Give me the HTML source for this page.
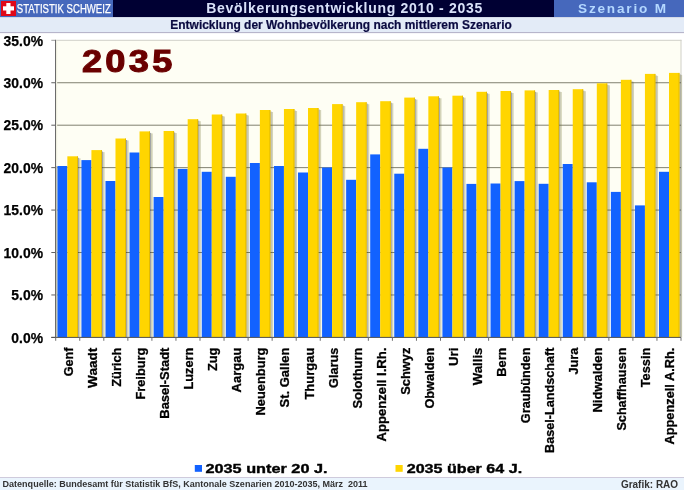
<!DOCTYPE html>
<html><head><meta charset="utf-8"><title>Bevölkerungsentwicklung 2010 - 2035</title>
<style>
html,body{margin:0;padding:0;background:#fff;width:684px;height:490px;overflow:hidden;}
svg{display:block;will-change:transform;}
text{white-space:pre;}
</style></head><body>
<svg width="684" height="490" viewBox="0 0 684 490">
<rect x="0" y="0" width="684" height="17.1" fill="#000033"/>
<rect x="0" y="0" width="113" height="17.1" fill="#4668bc"/>
<rect x="554" y="0" width="130" height="17.1" fill="#4668bc"/>
<rect x="1" y="1" width="15" height="15" fill="#e00818"/>
<rect x="3" y="6.3" width="11" height="4.2" fill="#fff"/>
<rect x="6.3" y="3" width="4.2" height="11" fill="#fff"/>
<text x="16.8" y="12.9" font-family='"Liberation Sans", sans-serif' font-size="12.7" stroke="#fff" stroke-width="0.25" fill="#ffffff" textLength="94" lengthAdjust="spacingAndGlyphs">STATISTIK SCHWEIZ</text>
<text x="206.3" y="13.4" font-family='"Liberation Sans", sans-serif' font-weight="bold" font-size="14" fill="#d8e0f8" textLength="276" lengthAdjust="spacing">Bevölkerungsentwicklung 2010 - 2035</text>
<text x="578" y="13.2" font-family='"Liberation Sans", sans-serif' font-weight="bold" font-size="13.6" fill="#b4d8ff" textLength="88" lengthAdjust="spacing">Szenario M</text>
<rect x="0" y="17.1" width="684" height="15.4" fill="#e3ebf7"/>
<rect x="0" y="17.1" width="684" height="0.7" fill="#cdd3e2"/>
<rect x="0" y="32.2" width="684" height="0.9" fill="#aaa6c0"/>
<text x="170.3" y="28.6" font-family='"Liberation Sans", sans-serif' font-weight="bold" font-size="12" fill="#0a0a40" stroke="#0a0a40" stroke-width="0.2" textLength="341.5" lengthAdjust="spacingAndGlyphs">Entwicklung der Wohnbevölkerung nach mittlerem Szenario</text>
<rect x="55.7" y="40.3" width="625.3" height="297.09999999999997" fill="#fefef4"/>
<rect x="55.7" y="39.8" width="625.8" height="1" fill="#d0d0c8"/>
<rect x="680.5" y="39.8" width="1" height="297.09999999999997" fill="#d0d0c8"/>
<rect x="55.7" y="82.24" width="625.3" height="1" fill="#808070"/>
<rect x="55.7" y="124.69" width="625.3" height="1" fill="#808070"/>
<rect x="55.7" y="167.13" width="625.3" height="1" fill="#808070"/>
<rect x="55.7" y="209.57" width="625.3" height="1" fill="#808070"/>
<rect x="55.7" y="252.01" width="625.3" height="1" fill="#808070"/>
<rect x="55.7" y="294.46" width="625.3" height="1" fill="#808070"/>
<rect x="51.3" y="39.80" width="4.4" height="1" fill="#a0a0a0"/>
<text x="43" y="45.60" text-anchor="end" font-family='"Liberation Sans", sans-serif' font-weight="bold" font-size="13.9" fill="#000" stroke="#000" stroke-width="0.25">35.0%</text>
<rect x="51.3" y="82.24" width="4.4" height="1" fill="#606060"/>
<text x="43" y="88.04" text-anchor="end" font-family='"Liberation Sans", sans-serif' font-weight="bold" font-size="13.9" fill="#000" stroke="#000" stroke-width="0.25">30.0%</text>
<rect x="51.3" y="124.69" width="4.4" height="1" fill="#606060"/>
<text x="43" y="130.49" text-anchor="end" font-family='"Liberation Sans", sans-serif' font-weight="bold" font-size="13.9" fill="#000" stroke="#000" stroke-width="0.25">25.0%</text>
<rect x="51.3" y="167.13" width="4.4" height="1" fill="#606060"/>
<text x="43" y="172.93" text-anchor="end" font-family='"Liberation Sans", sans-serif' font-weight="bold" font-size="13.9" fill="#000" stroke="#000" stroke-width="0.25">20.0%</text>
<rect x="51.3" y="209.57" width="4.4" height="1" fill="#606060"/>
<text x="43" y="215.37" text-anchor="end" font-family='"Liberation Sans", sans-serif' font-weight="bold" font-size="13.9" fill="#000" stroke="#000" stroke-width="0.25">15.0%</text>
<rect x="51.3" y="252.01" width="4.4" height="1" fill="#606060"/>
<text x="43" y="257.81" text-anchor="end" font-family='"Liberation Sans", sans-serif' font-weight="bold" font-size="13.9" fill="#000" stroke="#000" stroke-width="0.25">10.0%</text>
<rect x="51.3" y="294.46" width="4.4" height="1" fill="#606060"/>
<text x="43" y="300.26" text-anchor="end" font-family='"Liberation Sans", sans-serif' font-weight="bold" font-size="13.9" fill="#000" stroke="#000" stroke-width="0.25">5.0%</text>
<rect x="51.3" y="336.90" width="4.4" height="1" fill="#606060"/>
<text x="43" y="342.70" text-anchor="end" font-family='"Liberation Sans", sans-serif' font-weight="bold" font-size="13.9" fill="#000" stroke="#000" stroke-width="0.25">0.0%</text>
<text transform="translate(81.9,71.9) scale(1.125,1)" font-family='"Liberation Sans", sans-serif' font-weight="bold" font-size="32.2" fill="#6a0000" stroke="#6a0000" stroke-width="1.1" textLength="80.5" lengthAdjust="spacing">2035</text>
<rect x="77.80" y="157.80" width="1.1" height="179.60" fill="#303848" fill-opacity="0.45"/>
<rect x="78.90" y="158.30" width="1.6" height="179.10" fill="#707030" fill-opacity="0.3"/>
<rect x="57.35" y="166.00" width="10.00" height="171.40" fill="#1262ff"/>
<rect x="67.35" y="156.30" width="10.45" height="181.10" fill="#ffd500"/>
<rect x="77.00" y="156.30" width="0.8" height="181.10" fill="#dcb400"/>
<rect x="101.87" y="151.60" width="1.1" height="185.80" fill="#303848" fill-opacity="0.45"/>
<rect x="102.97" y="152.10" width="1.6" height="185.30" fill="#707030" fill-opacity="0.3"/>
<rect x="81.42" y="160.10" width="10.00" height="177.30" fill="#1262ff"/>
<rect x="91.42" y="150.10" width="10.45" height="187.30" fill="#ffd500"/>
<rect x="101.07" y="150.10" width="0.8" height="187.30" fill="#dcb400"/>
<rect x="125.93" y="140.00" width="1.1" height="197.40" fill="#303848" fill-opacity="0.45"/>
<rect x="127.03" y="140.50" width="1.6" height="196.90" fill="#707030" fill-opacity="0.3"/>
<rect x="105.48" y="181.00" width="10.00" height="156.40" fill="#1262ff"/>
<rect x="115.48" y="138.50" width="10.45" height="198.90" fill="#ffd500"/>
<rect x="125.13" y="138.50" width="0.8" height="198.90" fill="#dcb400"/>
<rect x="150.00" y="132.90" width="1.1" height="204.50" fill="#303848" fill-opacity="0.45"/>
<rect x="151.10" y="133.40" width="1.6" height="204.00" fill="#707030" fill-opacity="0.3"/>
<rect x="129.55" y="152.50" width="10.00" height="184.90" fill="#1262ff"/>
<rect x="139.55" y="131.40" width="10.45" height="206.00" fill="#ffd500"/>
<rect x="149.20" y="131.40" width="0.8" height="206.00" fill="#dcb400"/>
<rect x="174.06" y="132.50" width="1.1" height="204.90" fill="#303848" fill-opacity="0.45"/>
<rect x="175.16" y="133.00" width="1.6" height="204.40" fill="#707030" fill-opacity="0.3"/>
<rect x="153.61" y="197.00" width="10.00" height="140.40" fill="#1262ff"/>
<rect x="163.61" y="131.00" width="10.45" height="206.40" fill="#ffd500"/>
<rect x="173.26" y="131.00" width="0.8" height="206.40" fill="#dcb400"/>
<rect x="198.13" y="120.70" width="1.1" height="216.70" fill="#303848" fill-opacity="0.45"/>
<rect x="199.23" y="121.20" width="1.6" height="216.20" fill="#707030" fill-opacity="0.3"/>
<rect x="177.68" y="168.90" width="10.00" height="168.50" fill="#1262ff"/>
<rect x="187.68" y="119.20" width="10.45" height="218.20" fill="#ffd500"/>
<rect x="197.33" y="119.20" width="0.8" height="218.20" fill="#dcb400"/>
<rect x="222.20" y="116.00" width="1.1" height="221.40" fill="#303848" fill-opacity="0.45"/>
<rect x="223.30" y="116.50" width="1.6" height="220.90" fill="#707030" fill-opacity="0.3"/>
<rect x="201.75" y="171.80" width="10.00" height="165.60" fill="#1262ff"/>
<rect x="211.75" y="114.50" width="10.45" height="222.90" fill="#ffd500"/>
<rect x="221.40" y="114.50" width="0.8" height="222.90" fill="#dcb400"/>
<rect x="246.26" y="115.00" width="1.1" height="222.40" fill="#303848" fill-opacity="0.45"/>
<rect x="247.36" y="115.50" width="1.6" height="221.90" fill="#707030" fill-opacity="0.3"/>
<rect x="225.81" y="176.80" width="10.00" height="160.60" fill="#1262ff"/>
<rect x="235.81" y="113.50" width="10.45" height="223.90" fill="#ffd500"/>
<rect x="245.46" y="113.50" width="0.8" height="223.90" fill="#dcb400"/>
<rect x="270.33" y="111.50" width="1.1" height="225.90" fill="#303848" fill-opacity="0.45"/>
<rect x="271.43" y="112.00" width="1.6" height="225.40" fill="#707030" fill-opacity="0.3"/>
<rect x="249.88" y="163.00" width="10.00" height="174.40" fill="#1262ff"/>
<rect x="259.88" y="110.00" width="10.45" height="227.40" fill="#ffd500"/>
<rect x="269.53" y="110.00" width="0.8" height="227.40" fill="#dcb400"/>
<rect x="294.39" y="110.50" width="1.1" height="226.90" fill="#303848" fill-opacity="0.45"/>
<rect x="295.49" y="111.00" width="1.6" height="226.40" fill="#707030" fill-opacity="0.3"/>
<rect x="273.94" y="166.00" width="10.00" height="171.40" fill="#1262ff"/>
<rect x="283.94" y="109.00" width="10.45" height="228.40" fill="#ffd500"/>
<rect x="293.59" y="109.00" width="0.8" height="228.40" fill="#dcb400"/>
<rect x="318.46" y="109.50" width="1.1" height="227.90" fill="#303848" fill-opacity="0.45"/>
<rect x="319.56" y="110.00" width="1.6" height="227.40" fill="#707030" fill-opacity="0.3"/>
<rect x="298.01" y="172.50" width="10.00" height="164.90" fill="#1262ff"/>
<rect x="308.01" y="108.00" width="10.45" height="229.40" fill="#ffd500"/>
<rect x="317.66" y="108.00" width="0.8" height="229.40" fill="#dcb400"/>
<rect x="342.53" y="105.60" width="1.1" height="231.80" fill="#303848" fill-opacity="0.45"/>
<rect x="343.63" y="106.10" width="1.6" height="231.30" fill="#707030" fill-opacity="0.3"/>
<rect x="322.08" y="167.50" width="10.00" height="169.90" fill="#1262ff"/>
<rect x="332.08" y="104.10" width="10.45" height="233.30" fill="#ffd500"/>
<rect x="341.73" y="104.10" width="0.8" height="233.30" fill="#dcb400"/>
<rect x="366.59" y="103.70" width="1.1" height="233.70" fill="#303848" fill-opacity="0.45"/>
<rect x="367.69" y="104.20" width="1.6" height="233.20" fill="#707030" fill-opacity="0.3"/>
<rect x="346.14" y="179.80" width="10.00" height="157.60" fill="#1262ff"/>
<rect x="356.14" y="102.20" width="10.45" height="235.20" fill="#ffd500"/>
<rect x="365.79" y="102.20" width="0.8" height="235.20" fill="#dcb400"/>
<rect x="390.66" y="102.70" width="1.1" height="234.70" fill="#303848" fill-opacity="0.45"/>
<rect x="391.76" y="103.20" width="1.6" height="234.20" fill="#707030" fill-opacity="0.3"/>
<rect x="370.21" y="154.40" width="10.00" height="183.00" fill="#1262ff"/>
<rect x="380.21" y="101.20" width="10.45" height="236.20" fill="#ffd500"/>
<rect x="389.86" y="101.20" width="0.8" height="236.20" fill="#dcb400"/>
<rect x="414.72" y="99.10" width="1.1" height="238.30" fill="#303848" fill-opacity="0.45"/>
<rect x="415.82" y="99.60" width="1.6" height="237.80" fill="#707030" fill-opacity="0.3"/>
<rect x="394.27" y="173.70" width="10.00" height="163.70" fill="#1262ff"/>
<rect x="404.27" y="97.60" width="10.45" height="239.80" fill="#ffd500"/>
<rect x="413.92" y="97.60" width="0.8" height="239.80" fill="#dcb400"/>
<rect x="438.79" y="97.80" width="1.1" height="239.60" fill="#303848" fill-opacity="0.45"/>
<rect x="439.89" y="98.30" width="1.6" height="239.10" fill="#707030" fill-opacity="0.3"/>
<rect x="418.34" y="148.80" width="10.00" height="188.60" fill="#1262ff"/>
<rect x="428.34" y="96.30" width="10.45" height="241.10" fill="#ffd500"/>
<rect x="437.99" y="96.30" width="0.8" height="241.10" fill="#dcb400"/>
<rect x="462.86" y="97.20" width="1.1" height="240.20" fill="#303848" fill-opacity="0.45"/>
<rect x="463.96" y="97.70" width="1.6" height="239.70" fill="#707030" fill-opacity="0.3"/>
<rect x="442.41" y="167.50" width="10.00" height="169.90" fill="#1262ff"/>
<rect x="452.41" y="95.70" width="10.45" height="241.70" fill="#ffd500"/>
<rect x="462.06" y="95.70" width="0.8" height="241.70" fill="#dcb400"/>
<rect x="486.92" y="93.30" width="1.1" height="244.10" fill="#303848" fill-opacity="0.45"/>
<rect x="488.02" y="93.80" width="1.6" height="243.60" fill="#707030" fill-opacity="0.3"/>
<rect x="466.47" y="183.90" width="10.00" height="153.50" fill="#1262ff"/>
<rect x="476.47" y="91.80" width="10.45" height="245.60" fill="#ffd500"/>
<rect x="486.12" y="91.80" width="0.8" height="245.60" fill="#dcb400"/>
<rect x="510.99" y="92.50" width="1.1" height="244.90" fill="#303848" fill-opacity="0.45"/>
<rect x="512.09" y="93.00" width="1.6" height="244.40" fill="#707030" fill-opacity="0.3"/>
<rect x="490.54" y="183.50" width="10.00" height="153.90" fill="#1262ff"/>
<rect x="500.54" y="91.00" width="10.45" height="246.40" fill="#ffd500"/>
<rect x="510.19" y="91.00" width="0.8" height="246.40" fill="#dcb400"/>
<rect x="535.05" y="91.90" width="1.1" height="245.50" fill="#303848" fill-opacity="0.45"/>
<rect x="536.15" y="92.40" width="1.6" height="245.00" fill="#707030" fill-opacity="0.3"/>
<rect x="514.60" y="181.10" width="10.00" height="156.30" fill="#1262ff"/>
<rect x="524.60" y="90.40" width="10.45" height="247.00" fill="#ffd500"/>
<rect x="534.25" y="90.40" width="0.8" height="247.00" fill="#dcb400"/>
<rect x="559.12" y="91.50" width="1.1" height="245.90" fill="#303848" fill-opacity="0.45"/>
<rect x="560.22" y="92.00" width="1.6" height="245.40" fill="#707030" fill-opacity="0.3"/>
<rect x="538.67" y="183.80" width="10.00" height="153.60" fill="#1262ff"/>
<rect x="548.67" y="90.00" width="10.45" height="247.40" fill="#ffd500"/>
<rect x="558.32" y="90.00" width="0.8" height="247.40" fill="#dcb400"/>
<rect x="583.19" y="90.70" width="1.1" height="246.70" fill="#303848" fill-opacity="0.45"/>
<rect x="584.29" y="91.20" width="1.6" height="246.20" fill="#707030" fill-opacity="0.3"/>
<rect x="562.74" y="164.00" width="10.00" height="173.40" fill="#1262ff"/>
<rect x="572.74" y="89.20" width="10.45" height="248.20" fill="#ffd500"/>
<rect x="582.39" y="89.20" width="0.8" height="248.20" fill="#dcb400"/>
<rect x="607.25" y="84.80" width="1.1" height="252.60" fill="#303848" fill-opacity="0.45"/>
<rect x="608.35" y="85.30" width="1.6" height="252.10" fill="#707030" fill-opacity="0.3"/>
<rect x="586.80" y="182.30" width="10.00" height="155.10" fill="#1262ff"/>
<rect x="596.80" y="83.30" width="10.45" height="254.10" fill="#ffd500"/>
<rect x="606.45" y="83.30" width="0.8" height="254.10" fill="#dcb400"/>
<rect x="631.32" y="81.30" width="1.1" height="256.10" fill="#303848" fill-opacity="0.45"/>
<rect x="632.42" y="81.80" width="1.6" height="255.60" fill="#707030" fill-opacity="0.3"/>
<rect x="610.87" y="191.90" width="10.00" height="145.50" fill="#1262ff"/>
<rect x="620.87" y="79.80" width="10.45" height="257.60" fill="#ffd500"/>
<rect x="630.52" y="79.80" width="0.8" height="257.60" fill="#dcb400"/>
<rect x="655.38" y="75.40" width="1.1" height="262.00" fill="#303848" fill-opacity="0.45"/>
<rect x="656.48" y="75.90" width="1.6" height="261.50" fill="#707030" fill-opacity="0.3"/>
<rect x="634.93" y="205.40" width="10.00" height="132.00" fill="#1262ff"/>
<rect x="644.93" y="73.90" width="10.45" height="263.50" fill="#ffd500"/>
<rect x="654.58" y="73.90" width="0.8" height="263.50" fill="#dcb400"/>
<rect x="679.45" y="74.40" width="1.1" height="263.00" fill="#303848" fill-opacity="0.45"/>
<rect x="680.55" y="74.90" width="1.6" height="262.50" fill="#707030" fill-opacity="0.3"/>
<rect x="659.00" y="171.80" width="10.00" height="165.60" fill="#1262ff"/>
<rect x="669.00" y="72.90" width="10.45" height="264.50" fill="#ffd500"/>
<rect x="678.65" y="72.90" width="0.8" height="264.50" fill="#dcb400"/>
<rect x="55" y="39.8" width="1" height="298.09999999999997" fill="#6c6c6c"/>
<rect x="56" y="40.8" width="1.2" height="125.2" fill="#f0f0e0"/>
<rect x="56" y="166" width="1.2" height="171.39999999999998" fill="#c6c6ae"/>
<rect x="51.300000000000004" y="336.9" width="629.6999999999999" height="1" fill="#505050"/>
<rect x="55.20" y="337.4" width="1" height="3.4" fill="#707070"/>
<rect x="79.25" y="337.4" width="1" height="3.4" fill="#707070"/>
<rect x="103.30" y="337.4" width="1" height="3.4" fill="#707070"/>
<rect x="127.35" y="337.4" width="1" height="3.4" fill="#707070"/>
<rect x="151.40" y="337.4" width="1" height="3.4" fill="#707070"/>
<rect x="175.45" y="337.4" width="1" height="3.4" fill="#707070"/>
<rect x="199.50" y="337.4" width="1" height="3.4" fill="#707070"/>
<rect x="223.55" y="337.4" width="1" height="3.4" fill="#707070"/>
<rect x="247.60" y="337.4" width="1" height="3.4" fill="#707070"/>
<rect x="271.65" y="337.4" width="1" height="3.4" fill="#707070"/>
<rect x="295.70" y="337.4" width="1" height="3.4" fill="#707070"/>
<rect x="319.75" y="337.4" width="1" height="3.4" fill="#707070"/>
<rect x="343.80" y="337.4" width="1" height="3.4" fill="#707070"/>
<rect x="367.85" y="337.4" width="1" height="3.4" fill="#707070"/>
<rect x="391.90" y="337.4" width="1" height="3.4" fill="#707070"/>
<rect x="415.95" y="337.4" width="1" height="3.4" fill="#707070"/>
<rect x="440.00" y="337.4" width="1" height="3.4" fill="#707070"/>
<rect x="464.05" y="337.4" width="1" height="3.4" fill="#707070"/>
<rect x="488.10" y="337.4" width="1" height="3.4" fill="#707070"/>
<rect x="512.15" y="337.4" width="1" height="3.4" fill="#707070"/>
<rect x="536.20" y="337.4" width="1" height="3.4" fill="#707070"/>
<rect x="560.25" y="337.4" width="1" height="3.4" fill="#707070"/>
<rect x="584.30" y="337.4" width="1" height="3.4" fill="#707070"/>
<rect x="608.35" y="337.4" width="1" height="3.4" fill="#707070"/>
<rect x="632.40" y="337.4" width="1" height="3.4" fill="#707070"/>
<rect x="656.45" y="337.4" width="1" height="3.4" fill="#707070"/>
<rect x="680.50" y="337.4" width="1" height="3.4" fill="#707070"/>
<text transform="translate(73.00,347.6) rotate(-90)" text-anchor="end" font-family='"Liberation Sans", sans-serif' font-weight="bold" font-size="13.4" fill="#000" stroke="#000" stroke-width="0.3" textLength="28.7" lengthAdjust="spacingAndGlyphs">Genf</text>
<text transform="translate(97.05,347.6) rotate(-90)" text-anchor="end" font-family='"Liberation Sans", sans-serif' font-weight="bold" font-size="13.4" fill="#000" stroke="#000" stroke-width="0.3" textLength="40.3" lengthAdjust="spacingAndGlyphs">Waadt</text>
<text transform="translate(121.10,347.6) rotate(-90)" text-anchor="end" font-family='"Liberation Sans", sans-serif' font-weight="bold" font-size="13.4" fill="#000" stroke="#000" stroke-width="0.3" textLength="39.2" lengthAdjust="spacingAndGlyphs">Zürich</text>
<text transform="translate(145.15,347.6) rotate(-90)" text-anchor="end" font-family='"Liberation Sans", sans-serif' font-weight="bold" font-size="13.4" fill="#000" stroke="#000" stroke-width="0.3" textLength="52.0" lengthAdjust="spacingAndGlyphs">Freiburg</text>
<text transform="translate(169.20,347.6) rotate(-90)" text-anchor="end" font-family='"Liberation Sans", sans-serif' font-weight="bold" font-size="13.4" fill="#000" stroke="#000" stroke-width="0.3" textLength="71.1" lengthAdjust="spacingAndGlyphs">Basel-Stadt</text>
<text transform="translate(193.25,347.6) rotate(-90)" text-anchor="end" font-family='"Liberation Sans", sans-serif' font-weight="bold" font-size="13.4" fill="#000" stroke="#000" stroke-width="0.3" textLength="41.9" lengthAdjust="spacingAndGlyphs">Luzern</text>
<text transform="translate(217.30,347.6) rotate(-90)" text-anchor="end" font-family='"Liberation Sans", sans-serif' font-weight="bold" font-size="13.4" fill="#000" stroke="#000" stroke-width="0.3" textLength="23.5" lengthAdjust="spacingAndGlyphs">Zug</text>
<text transform="translate(241.35,347.6) rotate(-90)" text-anchor="end" font-family='"Liberation Sans", sans-serif' font-weight="bold" font-size="13.4" fill="#000" stroke="#000" stroke-width="0.3" textLength="44.8" lengthAdjust="spacingAndGlyphs">Aargau</text>
<text transform="translate(265.40,347.6) rotate(-90)" text-anchor="end" font-family='"Liberation Sans", sans-serif' font-weight="bold" font-size="13.4" fill="#000" stroke="#000" stroke-width="0.3" textLength="67.9" lengthAdjust="spacingAndGlyphs">Neuenburg</text>
<text transform="translate(289.45,347.6) rotate(-90)" text-anchor="end" font-family='"Liberation Sans", sans-serif' font-weight="bold" font-size="13.4" fill="#000" stroke="#000" stroke-width="0.3" textLength="59.9" lengthAdjust="spacingAndGlyphs">St. Gallen</text>
<text transform="translate(313.50,347.6) rotate(-90)" text-anchor="end" font-family='"Liberation Sans", sans-serif' font-weight="bold" font-size="13.4" fill="#000" stroke="#000" stroke-width="0.3" textLength="52.0" lengthAdjust="spacingAndGlyphs">Thurgau</text>
<text transform="translate(337.55,347.6) rotate(-90)" text-anchor="end" font-family='"Liberation Sans", sans-serif' font-weight="bold" font-size="13.4" fill="#000" stroke="#000" stroke-width="0.3" textLength="40.3" lengthAdjust="spacingAndGlyphs">Glarus</text>
<text transform="translate(361.60,347.6) rotate(-90)" text-anchor="end" font-family='"Liberation Sans", sans-serif' font-weight="bold" font-size="13.4" fill="#000" stroke="#000" stroke-width="0.3" textLength="61.0" lengthAdjust="spacingAndGlyphs">Solothurn</text>
<text transform="translate(385.65,347.6) rotate(-90)" text-anchor="end" font-family='"Liberation Sans", sans-serif' font-weight="bold" font-size="13.4" fill="#000" stroke="#000" stroke-width="0.3" textLength="93.8" lengthAdjust="spacingAndGlyphs">Appenzell I.Rh.</text>
<text transform="translate(409.70,347.6) rotate(-90)" text-anchor="end" font-family='"Liberation Sans", sans-serif' font-weight="bold" font-size="13.4" fill="#000" stroke="#000" stroke-width="0.3" textLength="47.1" lengthAdjust="spacingAndGlyphs">Schwyz</text>
<text transform="translate(433.75,347.6) rotate(-90)" text-anchor="end" font-family='"Liberation Sans", sans-serif' font-weight="bold" font-size="13.4" fill="#000" stroke="#000" stroke-width="0.3" textLength="61.0" lengthAdjust="spacingAndGlyphs">Obwalden</text>
<text transform="translate(457.80,347.6) rotate(-90)" text-anchor="end" font-family='"Liberation Sans", sans-serif' font-weight="bold" font-size="13.4" fill="#000" stroke="#000" stroke-width="0.3" textLength="18.3" lengthAdjust="spacingAndGlyphs">Uri</text>
<text transform="translate(481.85,347.6) rotate(-90)" text-anchor="end" font-family='"Liberation Sans", sans-serif' font-weight="bold" font-size="13.4" fill="#000" stroke="#000" stroke-width="0.3" textLength="37.6" lengthAdjust="spacingAndGlyphs">Wallis</text>
<text transform="translate(505.90,347.6) rotate(-90)" text-anchor="end" font-family='"Liberation Sans", sans-serif' font-weight="bold" font-size="13.4" fill="#000" stroke="#000" stroke-width="0.3" textLength="29.1" lengthAdjust="spacingAndGlyphs">Bern</text>
<text transform="translate(529.95,347.6) rotate(-90)" text-anchor="end" font-family='"Liberation Sans", sans-serif' font-weight="bold" font-size="13.4" fill="#000" stroke="#000" stroke-width="0.3" textLength="75.6" lengthAdjust="spacingAndGlyphs">Graubünden</text>
<text transform="translate(554.00,347.6) rotate(-90)" text-anchor="end" font-family='"Liberation Sans", sans-serif' font-weight="bold" font-size="13.4" fill="#000" stroke="#000" stroke-width="0.3" textLength="105.3" lengthAdjust="spacingAndGlyphs">Basel-Landschaft</text>
<text transform="translate(578.05,347.6) rotate(-90)" text-anchor="end" font-family='"Liberation Sans", sans-serif' font-weight="bold" font-size="13.4" fill="#000" stroke="#000" stroke-width="0.3" textLength="26.9" lengthAdjust="spacingAndGlyphs">Jura</text>
<text transform="translate(602.10,347.6) rotate(-90)" text-anchor="end" font-family='"Liberation Sans", sans-serif' font-weight="bold" font-size="13.4" fill="#000" stroke="#000" stroke-width="0.3" textLength="65.0" lengthAdjust="spacingAndGlyphs">Nidwalden</text>
<text transform="translate(626.15,347.6) rotate(-90)" text-anchor="end" font-family='"Liberation Sans", sans-serif' font-weight="bold" font-size="13.4" fill="#000" stroke="#000" stroke-width="0.3" textLength="83.0" lengthAdjust="spacingAndGlyphs">Schaffhausen</text>
<text transform="translate(650.20,347.6) rotate(-90)" text-anchor="end" font-family='"Liberation Sans", sans-serif' font-weight="bold" font-size="13.4" fill="#000" stroke="#000" stroke-width="0.3" textLength="39.7" lengthAdjust="spacingAndGlyphs">Tessin</text>
<text transform="translate(674.25,347.6) rotate(-90)" text-anchor="end" font-family='"Liberation Sans", sans-serif' font-weight="bold" font-size="13.4" fill="#000" stroke="#000" stroke-width="0.3" textLength="96.9" lengthAdjust="spacingAndGlyphs">Appenzell A.Rh.</text>
<rect x="194.8" y="465" width="7.2" height="6.8" fill="#1262ff"/>
<text x="205.5" y="473" font-family='"Liberation Sans", sans-serif' font-weight="bold" font-size="12.3" fill="#000" stroke="#000" stroke-width="0.35" textLength="122" lengthAdjust="spacingAndGlyphs">2035 unter 20 J.</text>
<rect x="395.5" y="465" width="7.2" height="6.8" fill="#ffd500"/>
<text x="406.7" y="473" font-family='"Liberation Sans", sans-serif' font-weight="bold" font-size="12.3" fill="#000" stroke="#000" stroke-width="0.35" textLength="115.5" lengthAdjust="spacingAndGlyphs">2035 über 64 J.</text>
<rect x="0" y="477.5" width="684" height="12.5" fill="#eaf4fd"/>
<rect x="0" y="477" width="684" height="1" fill="#cfcbdc"/>
<text x="2.6" y="487" font-family='"Liberation Sans", sans-serif' font-weight="bold" font-size="9" fill="#333" textLength="365" lengthAdjust="spacingAndGlyphs">Datenquelle: Bundesamt für Statistik BfS, Kantonale Szenarien 2010-2035, März  2011</text>
<text x="620.9" y="487.6" font-family='"Liberation Sans", sans-serif' font-weight="bold" font-size="10" fill="#333" textLength="57.2" lengthAdjust="spacingAndGlyphs">Grafik: RAO</text>
</svg>
</body></html>
